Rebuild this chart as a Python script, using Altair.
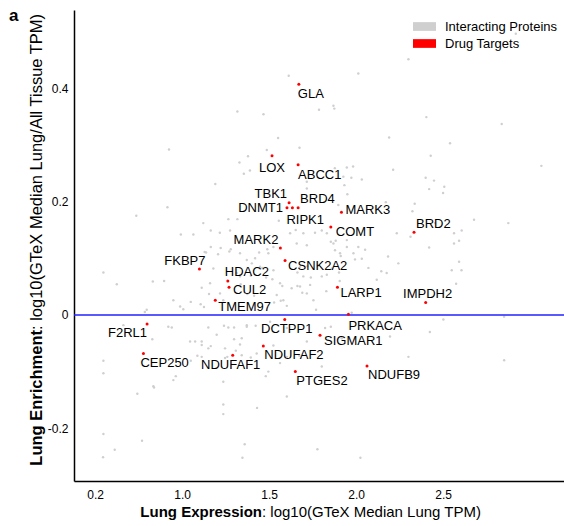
import altair as alt
import pandas as pd

# ---------------- data ----------------
gray_x = [1.613, 2.013, 2.918, 2.301, 1.870, 1.875, 1.787, 1.318, 1.468, 2.404, 2.837, 1.552, 2.190,
          2.540, 0.925, 1.487, 1.675, 1.379, 1.330, 1.390, 1.355, 1.191, 2.429, 3.065, 1.983, 1.947,
          2.213, 1.927, 1.973, 2.033, 2.400, 2.448, 2.507, 2.420, 2.500, 1.950, 1.717, 1.717, 0.916,
          0.737, 2.171, 2.337, 2.324, 1.898, 2.678, 2.875, 2.607, 2.563, 2.592, 2.563, 2.313, 1.855,
          1.883, 1.803, 1.122, 1.266, 1.318, 1.165, 1.217, 0.993, 1.065, 1.556, 1.653, 1.276, 1.138,
          1.165, 1.207, 1.272, 1.333, 1.372, 1.420, 1.496, 1.525, 1.333, 0.832, 0.897, 0.950, 0.989,
          1.007, 1.161, 1.180, 1.218, 1.237, 1.314, 1.333, 1.401, 1.448, 1.483, 1.525, 1.563, 1.544,
          1.582, 1.602, 1.678, 1.697, 1.736, 1.717, 1.755, 1.770, 1.678, 1.630, 1.803, 1.832, 1.860,
          1.908, 1.947, 1.947, 1.985, 2.013, 2.052, 1.764, 1.870, 1.832, 1.697, 1.717, 1.659, 1.621,
          2.119, 2.176, 2.243, 2.234, 2.454, 0.797, 0.941, 1.151, 1.266, 1.372, 1.822, 1.046, 1.075,
          1.113, 1.113, 1.151, 1.247, 1.343, 1.602, 1.717, 1.918, 2.195, 2.301, 1.113, 1.247, 1.343,
          1.429, 1.563, 1.674, 1.602, 1.803, 0.835, 0.950, 1.237, 1.496, 1.602, 0.548, 0.625, 1.050,
          1.113, 1.107, 1.126, 1.155, 0.786, 1.130, 1.222, 1.280, 1.443, 1.490, 1.461, 1.395, 1.337,
          1.375, 1.414, 1.519, 1.576, 1.529, 1.567, 1.663, 1.691, 1.740, 1.663, 1.720, 1.241, 1.299,
          1.423, 0.829, 1.165, 1.333, 1.309, 1.260, 1.088, 1.050, 1.395, 0.548, 0.548, 0.964, 0.743,
          0.839, 1.481, 1.237, 1.237, 1.431, 0.548, 0.770, 0.613, 0.546, 1.360, 1.347, 1.778, 2.025,
          0.663, 0.921, 1.199, 1.372, 1.525, 1.506, 1.299, 1.879, 1.912, 1.994, 2.033, 2.184, 2.420,
          2.592, 2.071, 2.145, 2.550, 2.606, 1.902, 2.575, 1.829, 1.906, 1.975, 1.855, 2.502, 2.851,
          2.424, 2.851, 1.933, 1.878]
gray_y = [0.422, 0.426, 0.496, 0.451, 0.369, 0.364, 0.362, 0.359, 0.354, 0.349, 0.337, 0.312, 0.313,
          0.303, 0.292, 0.291, 0.295, 0.280, 0.269, 0.255, 0.249, 0.231, 0.281, 0.263, 0.262, 0.260,
          0.256, 0.244, 0.242, 0.239, 0.242, 0.237, 0.226, 0.222, 0.215, 0.213, 0.235, 0.223, 0.190,
          0.175, 0.199, 0.196, 0.183, 0.194, 0.168, 0.162, 0.149, 0.144, 0.131, 0.126, 0.138, 0.129,
          0.131, 0.149, 0.162, 0.169, 0.169, 0.149, 0.145, 0.142, 0.142, 0.166, 0.150, 0.149, 0.110,
          0.120, 0.107, 0.112, 0.109, 0.097, 0.100, 0.109, 0.120, 0.128, 0.059, 0.060, 0.026, 0.015,
          0.010, 0.056, 0.082, 0.038, 0.026, 0.074, 0.068, 0.091, 0.085, 0.066, 0.079, 0.056, 0.035,
          0.026, 0.016, 0.085, 0.068, 0.053, 0.038, 0.026, 0.009, 0.050, 0.047, 0.068, 0.071, 0.082,
          0.109, 0.120, 0.132, 0.109, 0.120, 0.115, 0.145, 0.126, 0.144, 0.144, 0.123, 0.126, 0.144,
          0.062, 0.074, 0.091, 0.144, 0.162, 0.009, -0.022, -0.022, -0.022, -0.021, -0.023, -0.047, -0.047,
          -0.047, -0.053, -0.059, -0.059, -0.041, -0.023, -0.047, -0.041, -0.038, -0.074, -0.074, -0.076, -0.071,
          -0.068, -0.085, -0.072, -0.074, -0.091, -0.126, -0.115, -0.118, -0.100, -0.144, 0.075, 0.054, 0.023,
          0.048, 0.019, 0.014, 0.037, 0.005, 0.111, 0.118, 0.116, 0.110, 0.116, 0.083, 0.069, 0.054,
          0.037, 0.034, 0.063, 0.051, 0.022, 0.025, 0.051, 0.039, 0.066, 0.075, 0.086, -0.019, -0.022,
          -0.019, -0.043, -0.055, -0.052, -0.063, -0.074, -0.072, -0.081, -0.075, -0.081, -0.103, -0.108, -0.139,
          -0.128, -0.108, -0.158, -0.175, -0.164, -0.210, -0.222, -0.238, -0.251, -0.228, -0.252, -0.237, -0.252,
          -0.018, -0.021, -0.035, -0.018, -0.054, -0.012, -0.043, 0.114, 0.104, 0.098, 0.099, 0.103, 0.119,
          0.094, 0.083, 0.077, 0.079, 0.079, 0.075, 0.055, 0.042, 0.060, 0.004, -0.021, -0.008, -0.003,
          -0.030, -0.080, 0.229, 0.259]

target_names = ["GLA", "LOX", "ABCC1", "TBK1", "DNMT1", "RIPK1", "BRD4", "MARK3", "COMT", "BRD2",
                "MARK2", "CSNK2A2", "FKBP7", "HDAC2", "CUL2", "LARP1", "TMEM97", "IMPDH2", "PRKACA",
                "DCTPP1", "F2RL1", "SIGMAR1", "NDUFAF2", "CEP250", "NDUFAF1", "PTGES2", "NDUFB9"]
target_x = [1.671, 1.517, 1.667, 1.615, 1.603, 1.634, 1.667, 1.916, 1.855, 2.333,
            1.565, 1.592, 1.100, 1.263, 1.270, 1.893, 1.191, 2.400, 1.956,
            1.590, 0.799, 1.793, 1.467, 0.778, 1.291, 1.651, 2.063]
target_y = [0.407, 0.281, 0.265, 0.198, 0.189, 0.189, 0.189, 0.181, 0.155, 0.146,
            0.118, 0.096, 0.081, 0.060, 0.049, 0.049, 0.026, 0.022, 0.001,
            -0.008, -0.016, -0.036, -0.055, -0.068, -0.071, -0.100, -0.090]

x_tick_values = [0.5, 1.0, 1.5, 2.0, 2.5]
x_tick_labels = ["0.2", "1.0", "1.5", "2.0", "2.5"]
y_tick_values = [-0.2, 0.0, 0.2, 0.4]
y_tick_labels = ["-0.2", "0", "0.2", "0.4"]
x_domain = [0.379, 3.195]
y_domain = [-0.293, 0.538]
zero_line = [0.0]

legend_labels = ["Interacting Proteins", "Drug Targets"]
legend_colors = ["#cfcfcf", "#ff0000"]

x_title_bold = "Lung Expression"
x_title_rest = ": log10(GTeX Median Lung TPM)"
y_title_bold = "Lung Enrichment"
y_title_rest = ": log10(GTeX Median Lung/All Tissue TPM)"
panel_letter = "a"

# ---------------- label placement (style) ----------------
label_style = {
    "GLA": ("left", -1, 10), "LOX": ("center", 0, 12), "ABCC1": ("left", 0, 10),
    "TBK1": ("right", -2, -9), "DNMT1": ("right", -4, 0), "RIPK1": ("left", -6, 12),
    "BRD4": ("left", 2, -9), "MARK3": ("left", 4, -2), "COMT": ("left", 5, 5),
    "BRD2": ("left", 2, -8), "MARK2": ("right", -2, -8), "CSNK2A2": ("left", 3, 5),
    "FKBP7": ("right", 6, -8), "HDAC2": ("left", -3, -9), "CUL2": ("left", 4, 3),
    "LARP1": ("left", 3, 6), "TMEM97": ("left", 3, 7), "IMPDH2": ("center", 2, -8),
    "PRKACA": ("left", 0, 12), "DCTPP1": ("center", 2, 10), "F2RL1": ("right", 0, 9),
    "SIGMAR1": ("left", 4, 6), "NDUFAF2": ("left", 1, 9), "CEP250": ("left", -3, 10),
    "NDUFAF1": ("center", -2, 10), "PTGES2": ("left", 1, 9), "NDUFB9": ("left", 1, 9),
}

FONT = "Liberation Sans"
W, H = 490, 471

gray_df = pd.DataFrame({"x": gray_x, "y": gray_y, "group": legend_labels[0]})
tgt_df = pd.DataFrame({"x": target_x, "y": target_y, "name": target_names, "group": legend_labels[1]})


def expr_from(values, labels):
    parts = [f"datum.value == {v} ? '{l}'" for v, l in zip(values, labels)]
    return " : ".join(parts) + " : ''"


x_enc = alt.X("x:Q", scale=alt.Scale(domain=x_domain, nice=False, zero=False),
              axis=alt.Axis(values=x_tick_values, labelExpr=expr_from(x_tick_values, x_tick_labels),
                            title=None, ticks=False, grid=False, domainColor="#000", domainWidth=1.5,
                            labelFontSize=12, labelColor="#000", labelFont=FONT, labelPadding=8))
y_enc = alt.Y("y:Q", scale=alt.Scale(domain=y_domain, nice=False, zero=False),
              axis=alt.Axis(values=y_tick_values, labelExpr=expr_from(y_tick_values, y_tick_labels),
                            title=None, ticks=False, grid=False, domainColor="#000", domainWidth=1.5,
                            labelFontSize=12, labelColor="#000", labelFont=FONT, labelPadding=6))
color_enc = alt.Color("group:N", scale=alt.Scale(domain=legend_labels, range=legend_colors),
                      legend=alt.Legend(title=None, orient="none", legendX=340, legendY=10,
                                        symbolType="M-2,-0.76H2V0.76H-2Z", symbolSize=132,
                                        symbolStrokeWidth=0, symbolOpacity=1,
                                        labelFontSize=13, labelFont=FONT, labelColor="#000",
                                        labelOffset=14, rowPadding=3, padding=0, symbolOffset=4))

gray = alt.Chart(gray_df).mark_circle(size=6, opacity=1).encode(x=x_enc, y=y_enc, color=color_enc)
rule = alt.Chart(pd.DataFrame({"y": zero_line})).mark_rule(color="#2222ff", strokeWidth=1.5).encode(y=y_enc)
red = alt.Chart(tgt_df).mark_circle(size=9, opacity=1).encode(x=x_enc, y=y_enc, color=color_enc)

label_layers = []
for nm in target_names:
    al, dx, dy = label_style[nm]
    label_layers.append(
        alt.Chart(tgt_df).transform_filter(alt.datum.name == nm)
        .mark_text(align=al, baseline="middle", dx=dx, dy=dy, fontSize=13, font=FONT, color="#000")
        .encode(x=x_enc, y=y_enc, text="name:N")
    )


def txt(s, **kw):
    return alt.Chart(pd.DataFrame({"t": [s]})).mark_text(font=FONT, color="#000", **kw)


xtb = txt(x_title_bold, align="right", baseline="middle", fontSize=15, fontWeight="bold").encode(
    text="t:N", x=alt.value(188), y=alt.value(502))
xtr = txt(x_title_rest, align="left", baseline="middle", fontSize=15).encode(
    text="t:N", x=alt.value(188), y=alt.value(502))
ytb = txt(y_title_bold, align="right", baseline="middle", fontSize=16.5, fontWeight="bold", angle=270).encode(
    text="t:N", x=alt.value(-37), y=alt.value(320))
ytr = txt(y_title_rest, align="left", baseline="middle", fontSize=16.5, angle=270).encode(
    text="t:N", x=alt.value(-37), y=alt.value(320))
letter = txt(panel_letter, align="left", baseline="alphabetic", fontSize=17, fontWeight="bold").encode(
    text="t:N", x=alt.value(-65), y=alt.value(11))

chart = alt.layer(gray, rule, red, *label_layers, xtb, xtr, ytb, ytr, letter).properties(
    width=W, height=H,
    padding={"left": 74, "top": 10, "right": 0, "bottom": 45},
    autosize=alt.AutoSizeParams(type="none"),
).configure_view(stroke=None)

chart.save("out.html", embed_options={"renderer": "svg", "actions": False})
